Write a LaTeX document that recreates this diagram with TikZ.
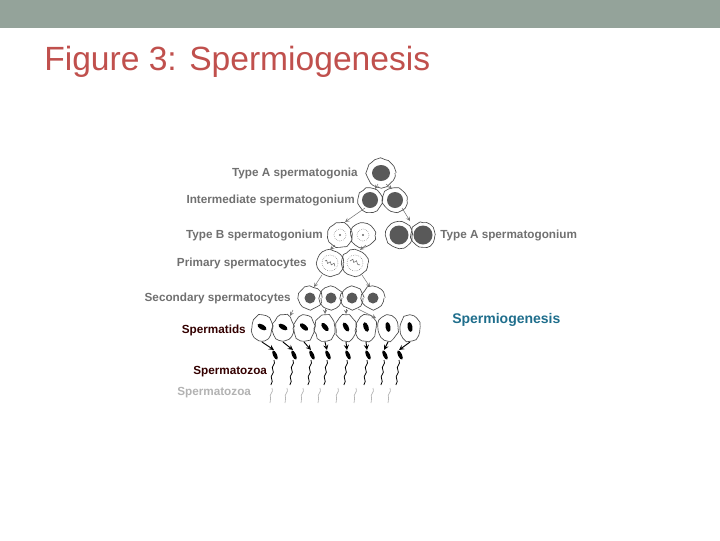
\documentclass[tikz,border=0pt]{standalone}
\usepackage{fontspec}
\setmainfont{Liberation Sans}
\usetikzlibrary{decorations.pathmorphing}
\definecolor{bar}{HTML}{94A39A}
\definecolor{ttl}{HTML}{C0504D}
\definecolor{lbl}{HTML}{707070}
\definecolor{teal}{HTML}{1F6E8C}
\begin{document}
\begin{tikzpicture}[x=0.75pt,y=-0.75pt,
  lab/.style={font=\bfseries\fontsize{8.8}{10}\selectfont,text=lbl,inner sep=0},
  dlab/.style={font=\bfseries\fontsize{8.8}{10}\selectfont,text=black!80!red,inner sep=0},
  cell/.style={draw=black!70,line width=0.5pt,decorate,decoration={random steps,segment length=3pt,amplitude=0.6pt}},
  nuc/.style={fill=black!65},
  arr/.style={->,draw=black!55,line width=0.4pt,>=stealth},
  barr/.style={->,draw=black,line width=0.7pt,>=stealth},
  tail/.style={line width=0.6pt,decorate,decoration={snake,amplitude=0.6pt,segment length=7pt}}]
\useasboundingbox (0,0) rectangle (720,540);
\fill[bar] (0,0) rectangle (720,28);
\node[anchor=west,text=ttl,font=\fontsize{25.2}{29}\selectfont,inner sep=0] (title) at (44,62) {Figure 3: Spermiogenesis};
% Type A spermatogonia
\draw[cell] (381,173) circle (14); \fill[nuc] (381,173) ellipse (9 and 8);
\node[lab,anchor=east] (l1) at (358,173) {Type A spermatogonia};
% intermediate
\draw[cell] (370,200) circle (12) (395,200) circle (12);
\fill[nuc] (370,200) circle (8) (395,200) circle (8);
\node[lab,anchor=east] (l2) at (355,200) {Intermediate spermatogonium};
\draw[arr] (378,184) -- (375,189); \draw[arr] (386,184) -- (392,189);
% type B
\draw[cell] (340,235) circle (12) (363,235) circle (12);
\draw[black!60,densely dotted] (340,235) circle (6) (363,235) circle (6);
\fill[black!60] (340,235) circle (1.2) (363,235) circle (1.2);
\node[lab,anchor=east] (l3) at (323,235) {Type B spermatogonium};
% type A spermatogonium
\draw[cell] (399,235) circle (13) (423,235) circle (12);
\fill[nuc] (399,235) circle (9.5) (423,235) circle (9.5);
\node[lab,anchor=west] (l4) at (440,235) {Type A spermatogonium};
\draw[arr] (365,208) -- (345,222); \draw[arr] (402,208) -- (410,221);
% primary
\draw[cell] (330,263) circle (13) (355,263) circle (13);
\draw[black!60,densely dotted] (330,263) circle (8) (355,263) circle (8);
\draw[black!60,decorate,decoration={snake,amplitude=1pt,segment length=3pt}] (325,261)--(335,265) (350,261)--(360,265);
\node[lab,anchor=east] (l5) at (307,263) {Primary spermatocytes};
\draw[arr] (335,245) -- (330,250); \draw[arr] (366,245) -- (360,250);
% secondary
\foreach \x in {310,331,352,373}{\draw[cell] (\x,298) circle (11); \fill[nuc] (\x,298) circle (5.5);}
\node[lab,anchor=east] (l6) at (291,298) {Secondary spermatocytes};
\draw[arr] (322,275) -- (314,287); \draw[arr] (362,275) -- (370,287);
% spermatids
\foreach \x/\a in {262/30,283/30,304/20,325/10,346/0,366/-10,388/-20,410/-20}{
  \draw[cell] (\x,328) ellipse (10 and 13);
  \fill[black] (\x,327) [rotate around={\a+30:(\x,327)}] ellipse (2.5 and 5);}
\node[dlab,anchor=east] (l7) at (246,330) {Spermatids};
\draw[arr] (293,310) -- (290,316); \draw[arr] (325,309) -- (325,314);
\draw[arr] (346,309) -- (346,314); \draw[arr] (358,309) -- (376,318);
% spermatozoa
\foreach \x/\s in {275/262,294/283,312/304,328/325,348/346,368/366,385/388,400/410}{
  \fill[black] (\x,355) [rotate around={25:(\x,355)}] ellipse (2 and 5);
  \draw[tail] (\x-1,360) -- (\x-4,385);
  \draw[barr] (\s,342) -- (\x-1,350);}
\node[dlab,anchor=west] (l8) at (193,372) {Spermatozoa};
% faint
\node[lab,anchor=west,text=black!30] (l9) at (177,393) {Spermatozoa};
\foreach \x in {272,287,303,320,338,356,373,390}
  \draw[black!30,tail,line width=0.5pt] (\x,388) -- (\x-2,403);
\node[anchor=west,font=\bfseries\fontsize{10.5}{12}\selectfont,text=teal,inner sep=0] (sp) at (452,320) {Spermiogenesis};
\end{tikzpicture}
\end{document}
